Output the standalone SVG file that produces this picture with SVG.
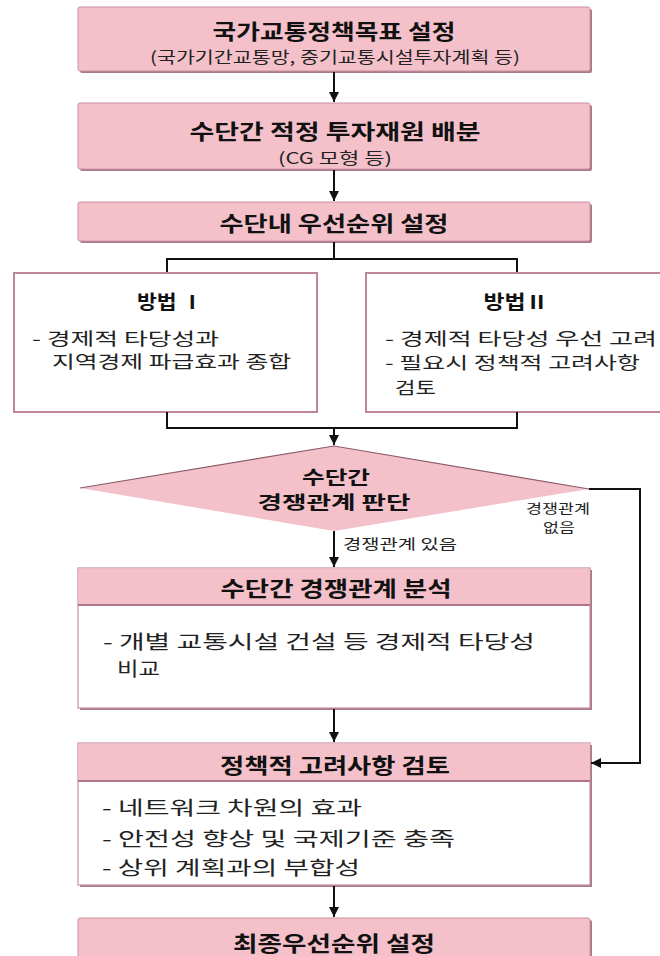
<svg xmlns="http://www.w3.org/2000/svg" width="660" height="956" viewBox="0 0 660 956">
<style>
.sh{fill:#a67a88;}
.pk{fill:#f4c1ca;stroke:#c8909e;stroke-width:1;}
.wh{fill:#ffffff;stroke:#c8909e;stroke-width:1.2;}
.mb{fill:#ffffff;stroke:#c08896;stroke-width:2;}
.sep{stroke:#b07686;stroke-width:2;}
.t{font-family:"Noto Sans CJK KR","Noto Sans",sans-serif;font-weight:700;fill:#111;text-anchor:middle;dominant-baseline:central;}
.s{font-family:"Noto Sans CJK KR","Noto Sans",sans-serif;fill:#222;dominant-baseline:central;}
.c{stroke:#111;stroke-width:2;fill:none;}
</style>
<defs>
<marker id="ah" viewBox="0 0 10 10" refX="10" refY="5" markerWidth="5" markerHeight="5" orient="auto" markerUnits="strokeWidth">
<path d="M0,0 L10,5 L0,10 z" fill="#111"/>
</marker>
</defs>
<rect width="660" height="956" fill="#ffffff"/>

<g id="n1">
<rect class="sh" x="80" y="9" width="512" height="64" rx="2"/>
<rect class="pk" x="78" y="7" width="512" height="64" rx="2"/>
<text class="t" x="334" y="30" font-size="21" textLength="243" lengthAdjust="spacingAndGlyphs">국가교통정책목표 설정</text>
<text class="s" x="335" y="56" font-size="16" text-anchor="middle" textLength="370" lengthAdjust="spacingAndGlyphs">(국가기간교통망, 중기교통시설투자계획 등)</text>
</g>

<g id="n2">
<rect class="sh" x="80" y="105" width="512" height="66" rx="2"/>
<rect class="pk" x="78" y="103" width="512" height="66" rx="2"/>
<text class="t" x="335" y="130" font-size="21" textLength="291" lengthAdjust="spacingAndGlyphs">수단간 적정 투자재원 배분</text>
<text class="s" x="335" y="157" font-size="16" text-anchor="middle" textLength="114" lengthAdjust="spacingAndGlyphs">(CG 모형 등)</text>
</g>

<g id="n3">
<rect class="sh" x="80" y="204" width="512" height="39" rx="2"/>
<rect class="pk" x="78" y="202" width="512" height="39" rx="2"/>
<text class="t" x="334" y="222" font-size="21" textLength="229" lengthAdjust="spacingAndGlyphs">수단내 우선순위 설정</text>
</g>

<g id="m1">
<rect class="mb" x="14" y="273" width="303" height="139"/>
<text class="t" x="170" y="300" font-size="19" textLength="66" lengthAdjust="spacingAndGlyphs">방법 Ⅰ</text>
<text class="s" x="32" y="337" font-size="17" textLength="187" lengthAdjust="spacingAndGlyphs">- 경제적 타당성과</text>
<text class="s" x="52" y="360" font-size="17" textLength="239" lengthAdjust="spacingAndGlyphs">지역경제 파급효과 종합</text>
</g>

<g id="m2">
<rect class="mb" x="366" y="273" width="300" height="139"/>
<text class="t" x="516" y="300" font-size="19" textLength="65" lengthAdjust="spacingAndGlyphs">방법Ⅱ</text>
<text class="s" x="385" y="337" font-size="17" textLength="272" lengthAdjust="spacingAndGlyphs">- 경제적 타당성 우선 고려</text>
<text class="s" x="385" y="361" font-size="17" textLength="255" lengthAdjust="spacingAndGlyphs">- 필요시 정책적 고려사항</text>
<text class="s" x="395" y="386" font-size="17" textLength="41" lengthAdjust="spacingAndGlyphs">검토</text>
</g>

<g id="d1">
<polygon points="334,446 589,489 334,531 80,488" fill="#f4c1ca"/>
<polyline points="80,488 334,446 589,489" fill="none" stroke="#8a5c68" stroke-width="1.2"/>
<text class="t" x="336" y="476" font-size="18" textLength="68" lengthAdjust="spacingAndGlyphs">수단간</text>
<text class="t" x="334" y="501" font-size="18" textLength="153" lengthAdjust="spacingAndGlyphs">경쟁관계 판단</text>
</g>

<g id="n4">
<rect class="sh" x="80" y="570" width="512" height="140"/>
<rect class="wh" x="78" y="568" width="512" height="140"/>
<rect x="78.6" y="568.6" width="510.8" height="36.4" fill="#f4c1ca"/>
<line class="sep" x1="78" y1="605" x2="590" y2="605"/>
<text class="t" x="336" y="587" font-size="21" textLength="231" lengthAdjust="spacingAndGlyphs">수단간 경쟁관계 분석</text>
<text class="s" x="103" y="640" font-size="19" textLength="432" lengthAdjust="spacingAndGlyphs">- 개별 교통시설 건설 등 경제적 타당성</text>
<text class="s" x="117" y="667" font-size="19" textLength="43" lengthAdjust="spacingAndGlyphs">비교</text>
</g>

<g id="n5">
<rect class="sh" x="80" y="745" width="512" height="142"/>
<rect class="wh" x="78" y="743" width="512" height="142"/>
<rect x="78.6" y="743.6" width="510.8" height="37.4" fill="#f4c1ca"/>
<line class="sep" x1="78" y1="781" x2="590" y2="781"/>
<text class="t" x="335" y="764" font-size="21" textLength="230" lengthAdjust="spacingAndGlyphs">정책적 고려사항 검토</text>
<text class="s" x="102" y="806" font-size="19" textLength="260" lengthAdjust="spacingAndGlyphs">- 네트워크 차원의 효과</text>
<text class="s" x="102" y="837" font-size="19" textLength="353" lengthAdjust="spacingAndGlyphs">- 안전성 향상 및 국제기준 충족</text>
<text class="s" x="102" y="866" font-size="19" textLength="258" lengthAdjust="spacingAndGlyphs">- 상위 계획과의 부합성</text>
</g>

<g id="n6">
<rect class="sh" x="80" y="920" width="512" height="45" rx="2"/>
<rect class="pk" x="78" y="918" width="512" height="45" rx="2"/>
<text class="t" x="334" y="942" font-size="21" textLength="202" lengthAdjust="spacingAndGlyphs">최종우선순위 설정</text>
</g>

<g id="connectors">
<line class="c" x1="334" y1="72" x2="334" y2="102" marker-end="url(#ah)"/>
<line class="c" x1="334" y1="170" x2="334" y2="201" marker-end="url(#ah)"/>
<polyline class="c" points="334,242 334,259"/>
<polyline class="c" points="167,272 167,259 517,259 517,272"/>
<polyline class="c" points="167,412 167,428 517,428 517,412"/>
<line class="c" x1="334" y1="428" x2="334" y2="445" marker-end="url(#ah)"/>
<line class="c" x1="334" y1="531" x2="334" y2="567" marker-end="url(#ah)"/>
<polyline class="c" points="589,489 640,489 640,763 591,763" marker-end="url(#ah)"/>
<line class="c" x1="334" y1="709" x2="334" y2="742" marker-end="url(#ah)"/>
<line class="c" x1="334" y1="886" x2="334" y2="917" marker-end="url(#ah)"/>
<text class="s" x="343" y="543" font-size="14" textLength="114" lengthAdjust="spacingAndGlyphs">경쟁관계  있음</text>
<text class="s" x="558" y="507" font-size="13" text-anchor="middle" textLength="64" lengthAdjust="spacingAndGlyphs">경쟁관계</text>
<text class="s" x="559" y="526" font-size="13" text-anchor="middle" textLength="32" lengthAdjust="spacingAndGlyphs">없음</text>
</g>
</svg>
